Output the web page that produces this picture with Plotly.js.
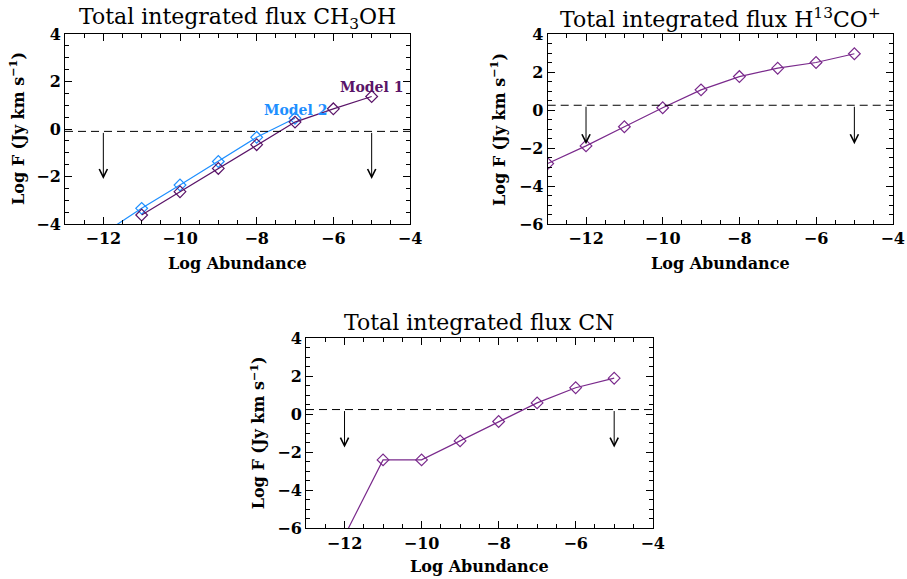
<!DOCTYPE html>
<html>
<head>
<meta charset="utf-8">
<script src="https://cdn.plot.ly/plotly-3.0.1.min.js"></script>
<style>html,body{margin:0;padding:0;background:#fff;}#chart{width:907px;height:579px;}</style>
</head>
<body>
<div id="chart"></div>
<script>
// ---- data ----
const ch3ohM1X = [-11, -10, -9, -8, -7, -6, -5];
const ch3ohM1Y = [-3.62, -2.64, -1.66, -0.66, 0.29, 0.85, 1.37];
const ch3ohM2X = [-12, -11, -10, -9, -8, -7];
const ch3ohM2Y = [-4.4, -3.34, -2.36, -1.37, -0.35, 0.45];
const h13coX = [-13, -12, -11, -10, -9, -8, -7, -6, -5];
const h13coY = [-2.82, -1.89, -0.88, 0.12, 1.06, 1.76, 2.2, 2.5, 2.96];
const cnX = [-12, -11, -10, -9, -8, -7, -6, -5];
const cnY = [-6.4, -2.4, -2.4, -1.4, -0.38, 0.6, 1.4, 1.9];
// detection limits (dashed line) and upper-limit arrows
const limitLevels = [-0.1, 0.25, 0.25];
const arrowX = [-12, -5];
const arrowTips = [-2.1, -1.8, -1.75];
const panelTitles = ['Total integrated flux CH<sub>3</sub>OH', 'Total integrated flux H<sup>13</sup>CO<sup>+</sup>', 'Total integrated flux CN'];
const xTitle = 'Log Abundance';
const yTitle = 'Log F (Jy km s<sup>\u22121</sup>)';
const xRange = [-13, -4];
const yRanges = [[-4, 4], [-6, 4], [-6, 4]];
const modelLabels = ['Model 1', 'Model 2'];

const purple1 = '#5a1468';
const purple2 = '#7a2a8c';
const blue = '#1e8fff';
const font = 'DejaVu Serif';

function series(x, y, color, xa, ya) {
  return {x: x, y: y, xaxis: xa, yaxis: ya, type: 'scatter', mode: 'lines+markers',
    line: {color: color, width: 1.2},
    marker: {symbol: 'diamond-open', size: 9, color: color, line: {width: 1.2, color: color}},
    cliponaxis: true, showlegend: false, hoverinfo: 'skip'};
}

const traces = [
  series(ch3ohM2X, ch3ohM2Y, blue, 'x', 'y'),
  series(ch3ohM1X, ch3ohM1Y, purple1, 'x', 'y'),
  series(h13coX, h13coY, purple2, 'x2', 'y2'),
  series(cnX, cnY, purple2, 'x3', 'y3')
];

function xax(domain, anchor) {
  return {domain: domain, anchor: anchor, range: xRange, tick0: 0, dtick: 2,
    ticks: 'inside', ticklen: 7, tickwidth: 1, tickcolor: '#000', mirror: 'allticks',
    showline: true, linecolor: '#000', linewidth: 1, showgrid: false, zeroline: false,
    tickfont: {family: font, size: 16, color: '#000', weight: 'bold'},
    minor: {dtick: 0.5, tick0: 0, ticks: 'inside', ticklen: 4, tickcolor: '#000', showgrid: false},
    automargin: false, fixedrange: true};
}
function yax(domain, anchor, range) {
  return {domain: domain, anchor: anchor, range: range, tick0: 0, dtick: 2,
    ticks: 'inside', ticklen: 7, tickwidth: 1, tickcolor: '#000', mirror: 'allticks',
    showline: true, linecolor: '#000', linewidth: 1, showgrid: false, zeroline: false,
    tickfont: {family: font, size: 16, color: '#000', weight: 'bold'},
    minor: {dtick: 0.5, tick0: 0, ticks: 'inside', ticklen: 4, tickcolor: '#000', showgrid: false},
    automargin: false, fixedrange: true};
}

const W = 907, H = 579;
const panels = [
  {xd: [65 / W, 410 / W], yd: [1 - 224 / H, 1 - 34 / H], xa: 'x', ya: 'y'},
  {xd: [547.7 / W, 892.7 / W], yd: [1 - 224 / H, 1 - 34 / H], xa: 'x2', ya: 'y2'},
  {xd: [306 / W, 652.7 / W], yd: [1 - 528.3 / H, 1 - 338.3 / H], xa: 'x3', ya: 'y3'}
];
const titleY = [1 - 18 / H, 1 - 18 / H, 1 - 322 / H];
const xTitleY = [1 - 263 / H, 1 - 263 / H, 1 - 566 / H];
const yTitleX = [17 / W, 498 / W, 258 / W];

const layout = {
  width: W, height: H, margin: {l: 0, r: 0, t: 0, b: 0},
  paper_bgcolor: '#fff', plot_bgcolor: '#fff', showlegend: false,
  font: {family: font, color: '#000'},
  xaxis: xax(panels[0].xd, 'y'), yaxis: yax(panels[0].yd, 'x', yRanges[0]),
  xaxis2: xax(panels[1].xd, 'y2'), yaxis2: yax(panels[1].yd, 'x2', yRanges[1]),
  xaxis3: xax(panels[2].xd, 'y3'), yaxis3: yax(panels[2].yd, 'x3', yRanges[2]),
  shapes: [], annotations: []
};

panels.forEach((p, i) => {
  const sfx = i === 0 ? '' : String(i + 1);
  layout.shapes.push({type: 'line', xref: 'x' + sfx + ' domain', yref: 'y' + sfx,
    x0: 0, x1: 1, y0: limitLevels[i], y1: limitLevels[i],
    line: {color: '#000', width: 1, dash: '8px,5px'}});
  arrowX.forEach(ax => {
    layout.annotations.push({xref: 'x' + sfx, yref: 'y' + sfx, axref: 'x' + sfx, ayref: 'y' + sfx,
      x: ax, y: arrowTips[i], ax: ax, ay: limitLevels[i], text: '', showarrow: true,
      arrowhead: 5, arrowsize: 1.6, arrowwidth: 1, arrowcolor: '#000', standoff: 0, startstandoff: 0});
  });
  layout.annotations.push({xref: 'paper', yref: 'paper', x: (p.xd[0] + p.xd[1]) / 2, y: titleY[i],
    xanchor: 'center', yanchor: 'middle', showarrow: false, text: panelTitles[i],
    font: {family: font, size: 22, color: '#000'}});
  layout.annotations.push({xref: 'paper', yref: 'paper', x: (p.xd[0] + p.xd[1]) / 2, y: xTitleY[i],
    xanchor: 'center', yanchor: 'middle', showarrow: false, text: xTitle,
    font: {family: font, size: 16, color: '#000', weight: 'bold'}});
  layout.annotations.push({xref: 'paper', yref: 'paper', x: yTitleX[i], y: (p.yd[0] + p.yd[1]) / 2,
    xanchor: 'center', yanchor: 'middle', showarrow: false, text: yTitle, textangle: -90,
    font: {family: font, size: 16, color: '#000', weight: 'bold'}});
});

layout.annotations.push({xref: 'x', yref: 'y', x: -5.0, y: 1.77, text: modelLabels[0], showarrow: false,
  xanchor: 'center', yanchor: 'middle', font: {family: font, size: 14, color: purple1, weight: 'bold'}});
layout.annotations.push({xref: 'x', yref: 'y', x: -7.0, y: 0.78, text: modelLabels[1], showarrow: false,
  xanchor: 'center', yanchor: 'middle', font: {family: font, size: 14, color: blue, weight: 'bold'}});

Plotly.newPlot('chart', traces, layout, {staticPlot: true, displayModeBar: false});
</script>
</body>
</html>
